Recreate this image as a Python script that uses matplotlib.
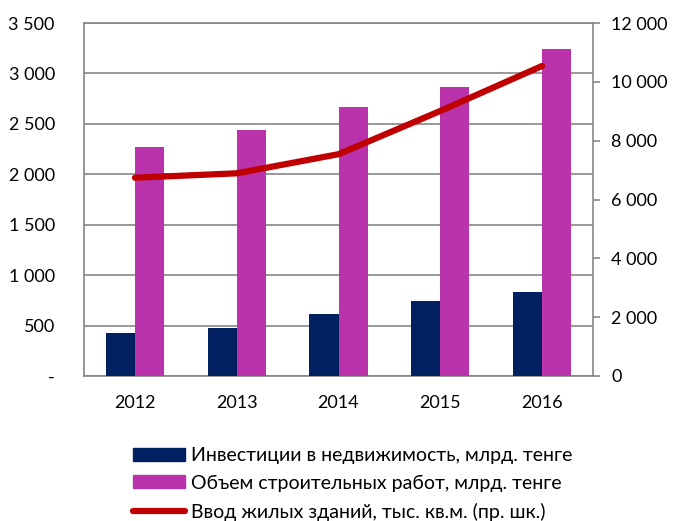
import matplotlib
matplotlib.use("Agg")
import matplotlib.pyplot as plt
import numpy as np
from matplotlib.patches import Patch
from matplotlib.lines import Line2D
from matplotlib.ticker import FuncFormatter

years = ["2012", "2013", "2014", "2015", "2016"]
invest = [429, 479, 615, 740, 830]
construction = [2270, 2439, 2667, 2862, 3239]
housing = [6740, 6890, 7540, 9010, 10540]

left_ticks = [0, 500, 1000, 1500, 2000, 2500, 3000, 3500]
right_ticks = [0, 2000, 4000, 6000, 8000, 10000, 12000]

plt.rcParams['font.family'] = ['Lato', 'DejaVu Sans']

fig = plt.figure(figsize=(6.82, 5.21), dpi=100)
ax = fig.add_axes([84/682, 1-376/521, (593-84)/682, (376-23)/521])
ax2 = ax.twinx()

x = np.arange(len(years))
w = 0.285
navy = "#002060"
mag = "#BB33AA"
red = "#C00000"
grid = "#868686"

ax.bar(x - w/2, invest, w, color=navy, zorder=3)
ax.bar(x + w/2, construction, w, color=mag, zorder=3)
ax.set_xlim(-0.5, 4.5)
ax.set_ylim(0, 3500)
ax.set_yticks(left_ticks)
def fmt(v, pos):
    if v == 0:
        return "-"
    return f"{int(v):,}".replace(",", " ")
ax.yaxis.set_major_formatter(FuncFormatter(fmt))
ax.set_xticks(x)
ax.set_xticklabels(years)
ax.yaxis.grid(True, color=grid, linewidth=1.2, zorder=0)
ax.set_axisbelow(True)
ax.tick_params(axis='y', length=0, labelsize=13, pad=21)
ax.tick_params(axis='x', length=0, labelsize=13, pad=14)
for s in ax.spines.values():
    s.set_color(grid)
    s.set_linewidth(1.2)

ax2.plot(x, housing, color=red, linewidth=4.5, solid_capstyle='round', zorder=4)
ax2.set_ylim(0, 12000)
ax2.set_yticks(right_ticks)
ax2.yaxis.set_major_formatter(FuncFormatter(lambda v, p: "0" if v == 0 else f"{int(v):,}".replace(",", " ")))
ax2.tick_params(axis='y', length=5, width=1.2, color=grid, labelsize=13, pad=8, direction='out')
for s in ax2.spines.values():
    s.set_visible(False)

handles = [Patch(color=navy), Patch(color=mag), Line2D([0], [0], color=red, linewidth=4.5, solid_capstyle='round')]
labels = ["Инвестиции в недвижимость, млрд. тенге",
          "Объем строительных работ, млрд. тенге",
          "Ввод жилых зданий, тыс. кв.м. (пр. шк.)"]
fig.legend(handles, labels, loc='upper left', bbox_to_anchor=(133/682, 1-447/521),
           frameon=False, fontsize=14, handlelength=2.65, handleheight=0.65,
           handletextpad=0.35, labelspacing=0.55, borderaxespad=0, borderpad=0)

fig.savefig("out.png", dpi=100)
